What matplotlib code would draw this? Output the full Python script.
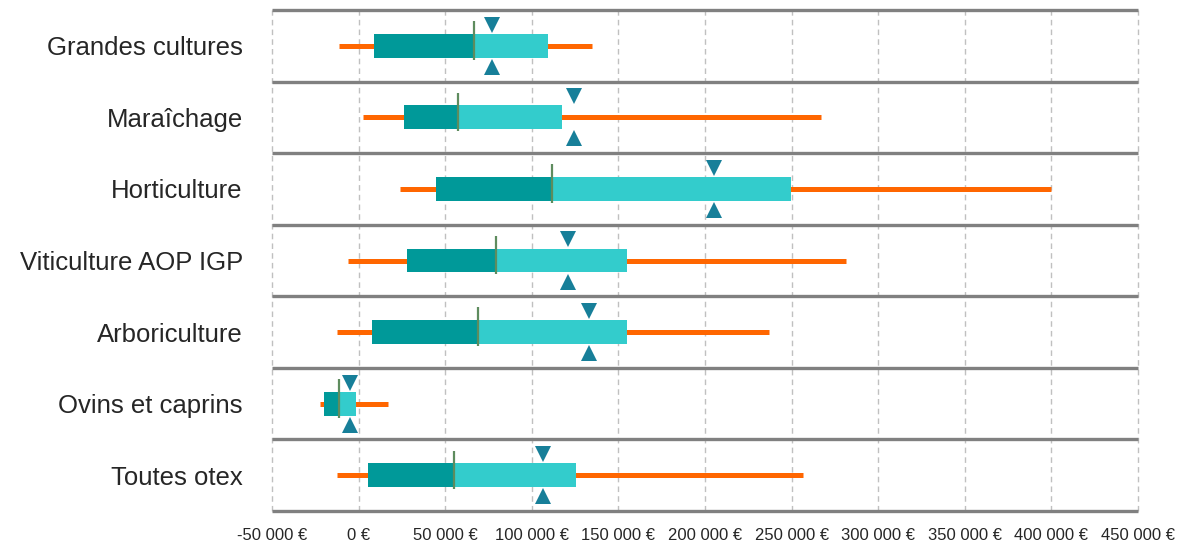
import matplotlib
matplotlib.use("Agg")
from matplotlib import pyplot as plt
from matplotlib.ticker import FuncFormatter

plt.rcParams['font.family'] = ['Liberation Sans', 'DejaVu Sans']

# data (euros)
categories = ["Grandes cultures", "Maraîchage", "Horticulture",
              "Viticulture AOP IGP", "Arboriculture", "Ovins et caprins",
              "Toutes otex"]
whisker_low = [-11500, 2500, 23700, -5900, -12300, -22500, -12300]
q1 = [8900, 26200, 44400, 28100, 7900, -20000, 5400]
median = [66900, 57400, 111800, 79500, 69000, -11300, 55000]
q3 = [109300, 117400, 249700, 155000, 155000, -1700, 125800]
whisker_high = [134700, 267000, 400000, 281400, 237000, 17000, 256600]
mean = [77200, 124600, 205400, 121000, 133000, -5200, 106400]

ticks = [-50000, 0, 50000, 100000, 150000, 200000, 250000, 300000, 350000,
         400000, 450000]

fig = plt.figure(figsize=(11.86, 5.48), dpi=100)
ax = fig.add_axes([272/1186, 1 - 511/548, (1138-272)/1186, 501/548])

ypos = list(range(len(categories)))
box_h = 0.335

# whiskers
ax.hlines(ypos, whisker_low, whisker_high, color="#ff6600", lw=3.6, zorder=2)

# boxes
lower = [m - a for a, m in zip(q1, median)]
upper = [b - m for m, b in zip(median, q3)]
ax.barh(ypos, lower, left=q1, height=box_h, color="#009999", zorder=3)
ax.barh(ypos, upper, left=median, height=box_h, color="#33cccc", zorder=3)

# median lines
ax.vlines(median, [y - 0.345 for y in ypos], [y + 0.195 for y in ypos],
          color="#5e8c5e", lw=1.6, zorder=4)

# mean markers
ax.plot(mean, [y - 0.295 for y in ypos], 'v', color="#177f99", ms=11.5,
        mew=0, zorder=5)
ax.plot(mean, [y + 0.295 for y in ypos], '^', color="#177f99", ms=11.5,
        mew=0, zorder=5)

# row separators
for k in range(len(categories) + 1):
    ax.axhline(k - 0.5, color="#808080", lw=2.4, zorder=1, clip_on=False,
               solid_capstyle="butt")

ax.set_xlim(-50000, 450000)
ax.set_ylim(len(categories) - 0.5, -0.5)
ax.set_xticks(ticks)
ax.xaxis.set_major_formatter(FuncFormatter(
    lambda v, p: "0 €" if v == 0 else f"{int(v):,} €".replace(",", " ")))
ax.grid(axis="x", color="#c0c0c0", ls=(0, (4, 3)), lw=1, zorder=0)
for gl in ax.get_xgridlines():
    gl.set_clip_on(False)
ax.set_axisbelow(True)
ax.set_yticks(ypos)
ax.set_yticklabels(categories, fontsize=18.5, color="#262626")
for lab in ax.get_xticklabels():
    lab.set_fontsize(12)
    lab.set_color("#262626")
ax.tick_params(axis="y", length=0, pad=21)
ax.tick_params(axis="x", length=0, pad=12)
for s in ax.spines.values():
    s.set_visible(False)

fig.savefig("out.png", dpi=100)
